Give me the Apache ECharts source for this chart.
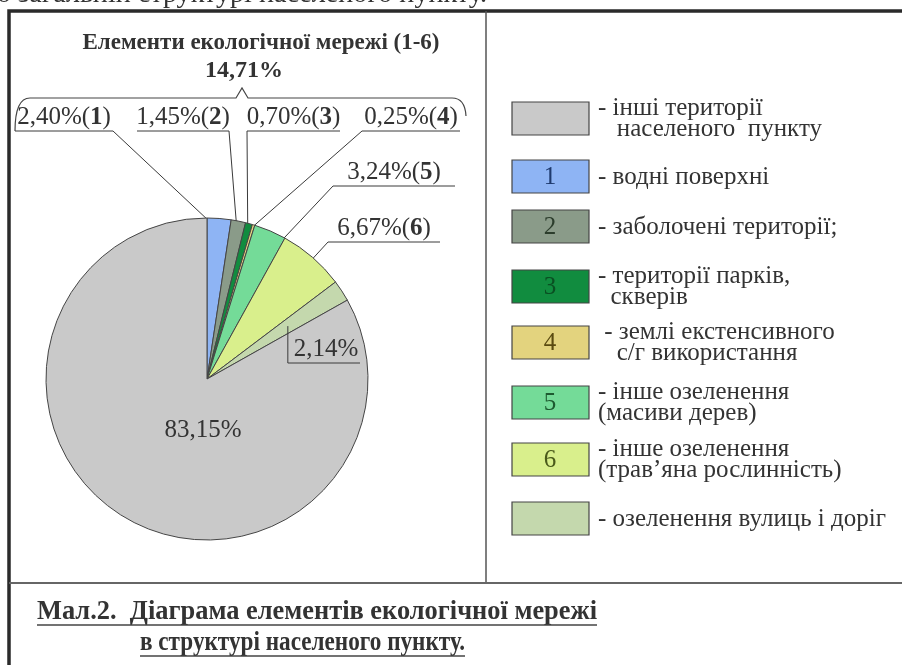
<!DOCTYPE html>
<html>
<head>
<meta charset="utf-8">
<script src="https://cdn.jsdelivr.net/npm/echarts@6/dist/echarts.min.js"></script>
<style>
  html, body { margin: 0; padding: 0; background: #fff; }
  #chart { width: 902px; height: 665px; }
</style>
</head>
<body>
<div id="chart"></div>
<script>
// дані діаграми (порядок секторів за годинниковою стрілкою від 12 години)
const sliceIds = ['1', '2', '3', '4', '5', '6', '', ''];
const sliceValues = [2.40, 1.45, 0.70, 0.25, 3.24, 6.67, 2.14, 83.15];
const sliceColors = ['#8eb4f4', '#8a9b89', '#118c3f', '#e3d37e', '#74db98', '#d9ef8c', '#c4d8ad', '#c9c9c9'];
const numColors = ['#1f3a6e', '#2c3d2c', '#0a4f22', '#5a4a10', '#1d5a30', '#4a5a1a', '', ''];
const legendTexts = [
    '- водні поверхні',
    '- заболочені території;',
    '- території парків,\n  скверів',
    ' - землі екстенсивного\n   с/г використання',
    '- інше озеленення\n(масиви дерев)',
    '- інше озеленення\n(трав’яна рослинність)',
    '- озеленення вулиць і доріг',
    '- інші території\n   населеного  пункту'
];
const legendOrder = [7, 0, 1, 2, 3, 4, 5, 6];
const networkTitle = 'Елементи екологічної мережі (1-6)';
const captionLines = ['Мал.2.  Діаграма елементів екологічної мережі', 'в структурі населеного пункту.'];
const topCutText = 'о загальній структурі населеного пункту.';

const FONT = '"Liberation Serif", "DejaVu Serif", serif';
const INK = '#333';
const CX = 207, CY = 379, R = 161;

// розміщення підписів (підкреслення + виносні лінії)
const labelSpots = [
    { ux: [113, 15], uy: 131, rf: 0.93 },
    { ux: [229, 137], uy: 131, rf: 0.95 },
    { ux: [247, 340], uy: 131, rf: 0.97 },
    { ux: [362, 460], uy: 131, rf: 0.99 },
    { ux: [333, 455], uy: 186, rf: 0.73 },
    { ux: [328, 440], uy: 242, rf: 0.77 },
    { corner: true, ux: [0, 360], uy: 363, rf: 0.6 },
    { inside: true, x: 203, y: 430 }
];
const legendBoxTops = [102, 160, 210, 270, 326, 386, 443, 502];

const total = sliceValues.reduce((a, b) => a + b, 0);
const fmt = v => v.toFixed(2).replace('.', ',') + '%';

// точка всередині сектора на середньому куті
function slicePoint(i, rf) {
    let cum = 0;
    for (let k = 0; k < i; k++) cum += sliceValues[k];
    const a = (cum + sliceValues[i] / 2) / total * Math.PI * 2;
    return [CX + R * rf * Math.sin(a), CY - R * rf * Math.cos(a)];
}

function textWidth(str, font) {
    const ctx = document.createElement('canvas').getContext('2d');
    ctx.font = font;
    return ctx.measureText(str).width;
}

function txt(x, y, text, size, extra) {
    return {
        type: 'text', x: x, y: y, silent: true,
        style: Object.assign({ text: text, fontFamily: FONT, fontSize: size, fill: INK, verticalAlign: 'middle' }, extra || {})
    };
}

// текст, стиснутий по горизонталі до заданої ширини (як у скані)
function fitTxt(x, y, text, size, width, bold) {
    const w = textWidth(text, (bold ? 'bold ' : '') + size + 'px ' + FONT);
    const el = txt(x, y, text, size, bold ? { fontWeight: 'bold' } : null);
    el.scaleX = width / w;
    return el;
}

const chart = echarts.init(document.getElementById('chart'));

const pieData = sliceValues.map((v, i) => ({
    value: v,
    name: sliceIds[i] || ('s' + i),
    itemStyle: { color: sliceColors[i] },
    labelLine: { show: !labelSpots[i].inside && !labelSpots[i].corner }
}));

const graphics = [];
const lineStyle = (c, w) => ({ fill: 'none', stroke: c, lineWidth: w });

// рамка
graphics.push({ type: 'rect', silent: true, shape: { x: 9, y: 11, width: 1000, height: 700 }, style: lineStyle('#2a2a2a', 3.5) });
graphics.push({ type: 'line', silent: true, shape: { x1: 486, y1: 11, x2: 486, y2: 583 }, style: lineStyle('#555', 1.5) });
graphics.push({ type: 'line', silent: true, shape: { x1: 9, y1: 583, x2: 902, y2: 583 }, style: lineStyle('#666', 2) });

// обрізаний текст зверху
graphics.push(fitTxt(-3, -5, topCutText, 28, 490, false));

// заголовок і сума елементів мережі
const networkSum = sliceValues.slice(0, 6).reduce((a, b) => a + b, 0);
graphics.push(txt(261, 43, networkTitle, 23, { fontWeight: 'bold', align: 'center' }));
graphics.push(txt(244, 71, fmt(networkSum), 24, { fontWeight: 'bold', align: 'center' }));

// фігурна дужка над підписами 1-4
graphics.push({ type: 'bezierCurve', silent: true, shape: { x1: 15, y1: 131, x2: 30, y2: 98, cpx1: 15, cpy1: 98 }, style: lineStyle('#444', 1.2) });
graphics.push({ type: 'polyline', silent: true, shape: { points: [[30, 98], [236, 98], [242, 88], [248, 98], [452, 98]] }, style: lineStyle('#444', 1.2) });
graphics.push({ type: 'bezierCurve', silent: true, shape: { x1: 452, y1: 98, x2: 466, y2: 116, cpx1: 465, cpy1: 98 }, style: lineStyle('#444', 1.2) });

// кутова виноска для 2,14%
labelSpots.forEach((s, i) => {
    if (!s.corner) return;
    const p0 = slicePoint(i, s.rf);
    graphics.push({
        type: 'polyline', silent: true, z: 10,
        shape: { points: [p0, [p0[0], s.uy], [s.ux[1], s.uy]] },
        style: lineStyle('#3a3a3a', 1)
    });
});

// легенда
legendOrder.forEach((idx, row) => {
    const top = legendBoxTops[row];
    graphics.push({
        type: 'rect', silent: true, shape: { x: 512, y: top, width: 77, height: 33 },
        style: { fill: sliceColors[idx], stroke: '#444', lineWidth: 1.2 }
    });
    if (sliceIds[idx]) {
        graphics.push(txt(550, top + 17, sliceIds[idx], 25, { fill: numColors[idx], align: 'center' }));
    }
    graphics.push(txt(598, top + 17, legendTexts[idx], 25, { lineHeight: 21 }));
});

// підпис рисунка з підкресленням
[[37, 612, 560], [140, 643, 325]].forEach((p, i) => {
    graphics.push(fitTxt(p[0], p[1], captionLines[i], 27, p[2], true));
    graphics.push({
        type: 'line', silent: true, shape: { x1: p[0], y1: p[1] + 13, x2: p[0] + p[2], y2: p[1] + 13 },
        style: lineStyle('#444', 1.5)
    });
});

chart.setOption({
    animation: false,
    backgroundColor: '#fff',
    graphic: graphics,
    series: [{
        type: 'pie',
        center: [CX, CY],
        radius: R,
        startAngle: 90,
        clockwise: true,
        avoidLabelOverlap: false,
        silent: true,
        data: pieData,
        itemStyle: { borderColor: '#454545', borderWidth: 1 },
        label: {
            show: true,
            fontFamily: FONT,
            fontSize: 25,
            color: INK,
            formatter: p => {
                const id = sliceIds[p.dataIndex];
                return fmt(p.value) + (id ? '({b|' + id + '})' : '');
            },
            rich: { b: { fontFamily: FONT, fontSize: 25, fontWeight: 'bold', color: INK } }
        },
        labelLine: { show: true, lineStyle: { color: '#3a3a3a', width: 1 } },
        labelLayout: params => {
            const i = params.dataIndex;
            const s = labelSpots[i];
            if (s.inside) {
                return { x: s.x, y: s.y, align: 'center', verticalAlign: 'middle' };
            }
            const p0 = slicePoint(i, s.rf);
            if (s.corner) {
                return { x: (p0[0] + s.ux[1]) / 2 + 2, y: s.uy - 1, align: 'center', verticalAlign: 'bottom' };
            }
            return {
                x: (s.ux[0] + s.ux[1]) / 2, y: s.uy - 1,
                align: 'center', verticalAlign: 'bottom',
                labelLinePoints: [p0, [s.ux[0], s.uy], [s.ux[1], s.uy]]
            };
        }
    }]
});
</script>
</body>
</html>
